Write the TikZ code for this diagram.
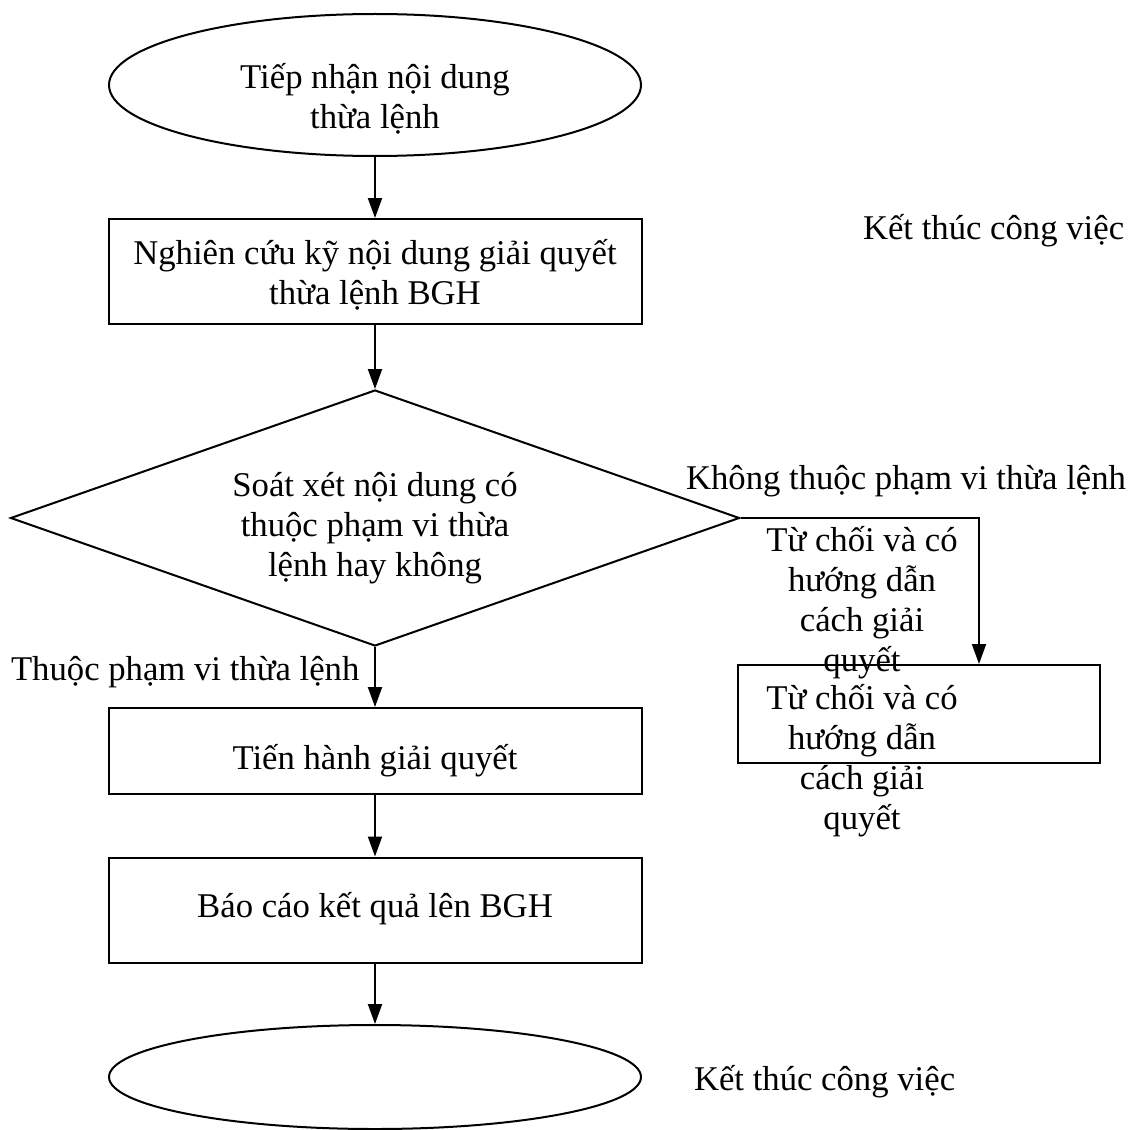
\documentclass[tikz,border=0pt]{standalone}
\usepackage{fontspec}
\setmainfont{Liberation Serif}
\usetikzlibrary{shapes.geometric,arrows.meta}
\begin{document}
\begin{tikzpicture}[x=1pt,y=-1pt,
  line width=2pt,
  arr/.style={-{Triangle[length=20pt,width=14pt]}},
  txt/.style={inner sep=0pt,align=center,font=\fontsize{34.7}{40}\selectfont},
  shp/.style={draw,inner sep=0pt}]
\useasboundingbox (0,0) rectangle (1145,1129);
% shapes
\node[shp,ellipse,minimum width=532pt,minimum height=142pt] (start) at (375,85) {};
\node[shp,rectangle,minimum width=533pt,minimum height=105pt] (study) at (375,271.5) {};
\node[shp,diamond,minimum width=729pt,minimum height=256pt] (check) at (375,518) {};
\node[shp,rectangle,minimum width=533pt,minimum height=86pt] (solve) at (375,751) {};
\node[shp,rectangle,minimum width=533pt,minimum height=105pt] (report) at (375,910) {};
\node[shp,ellipse,minimum width=532pt,minimum height=104pt] (finish) at (375,1077) {};
\node[shp,rectangle,minimum width=362pt,minimum height=98pt] (refuse) at (919,714) {};
% texts
\node[txt] (t1) at (375,99) {Tiếp nhận nội dung\\thừa lệnh};
\node[txt] (t2) at (375,275) {Nghiên cứu kỹ nội dung giải quyết\\thừa lệnh BGH};
\node[txt] (t3) at (375,528) {Soát xét nội dung có\\thuộc phạm vi thừa\\lệnh hay không};
\node[txt] (t4) at (375,760.5) {Tiến hành giải quyết};
\node[txt] (t5) at (375,909) {Báo cáo kết quả lên BGH};
\node[txt,anchor=west] (lyes) at (10,672) {Thuộc phạm vi thừa lệnh};
\node[txt,anchor=west] (lno) at (685,481.5) {Không thuộc phạm vi thừa lệnh};
\node[txt] (rlab) at (862,603) {Từ chối và có\\hướng dẫn\\cách giải\\quyết};
\node[txt] (rtxt) at (862,761) {Từ chối và có\\hướng dẫn\\cách giải\\quyết};
\node[txt,anchor=west] (endtop) at (862,231) {Kết thúc công việc};
\node[txt,anchor=west] (endbot) at (693,1081.5) {Kết thúc công việc};
% connectors
\draw[arr] (start.south) -- (study.north);
\draw[arr] (study.south) -- (check.north);
\draw[arr] (check.south) -- (solve.north);
\draw[arr] (solve.south) -- (report.north);
\draw[arr] (report.south) -- (finish.north);
\coordinate (turn) at (979,518);
\draw[arr] (check.east) -- (turn) -- (turn |- refuse.north);
\end{tikzpicture}
\end{document}
